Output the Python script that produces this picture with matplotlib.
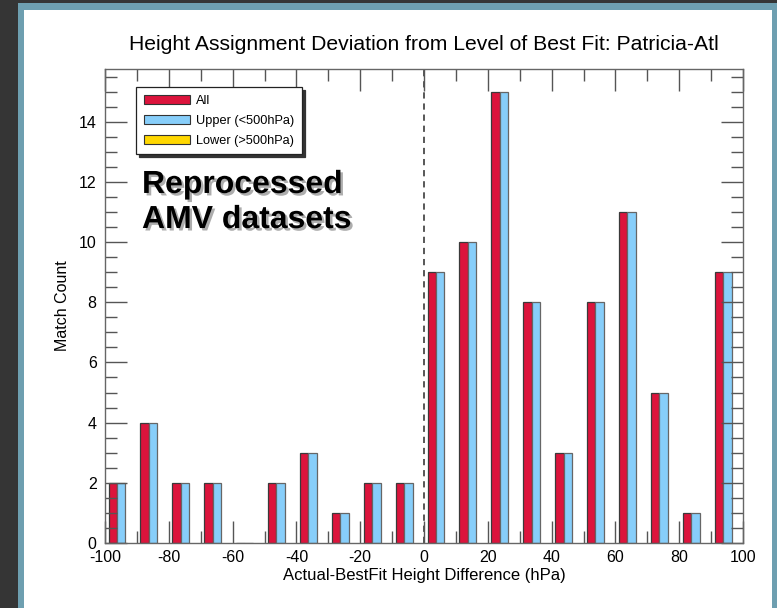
import matplotlib
matplotlib.use("Agg")
import matplotlib.pyplot as plt
import matplotlib.patheffects as pe
from matplotlib.patches import Rectangle
import numpy as np

plt.rcParams['font.family'] = ['Liberation Sans', 'DejaVu Sans']
plt.rcParams['lines.scale_dashes'] = False
plt.rcParams['axes.unicode_minus'] = False

# histogram bins (left edge, hPa) and counts
bin_left = [-100, -90, -80, -70, -60, -50, -40, -30, -20, -10,
            0, 10, 20, 30, 40, 50, 60, 70, 80, 90]
count_all = [2, 4, 2, 2, 0, 2, 3, 1, 2, 2,
             9, 10, 15, 8, 3, 8, 11, 5, 1, 9]
count_upper = [2, 4, 2, 2, 0, 2, 3, 1, 2, 2,
               9, 10, 15, 8, 3, 8, 11, 5, 1, 9]
count_lower = [0] * 20
series_names = ["All", "Upper (<500hPa)", "Lower (>500hPa)"]

fig = plt.figure(figsize=(7.77, 6.08), dpi=100, facecolor='#353535')

# slide panel
W, H = 777.0, 608.0
fig.add_artist(Rectangle((18 / W, 0), 1.0, (H - 3) / H, transform=fig.transFigure,
                         facecolor='#6e9fb0', edgecolor='none', zorder=-10))
fig.add_artist(Rectangle((24 / W, 0), (772 - 24) / W, (H - 10) / H, transform=fig.transFigure,
                         facecolor='white', edgecolor='none', zorder=-9))

ax = fig.add_axes([105 / W, (H - 543) / H, (743 - 105) / W, (543 - 69) / H])
ax.set_facecolor('none')

x = np.array(bin_left, dtype=float)
bw = 2.65
b1 = ax.bar(x + 1.1, count_all, width=bw, align='edge', color='#dc143c',
            edgecolor='#3a3a3a', linewidth=0.9, zorder=1)
b2 = ax.bar(x + 1.1 + bw, count_upper, width=bw, align='edge', color='#87cefa',
            edgecolor='#666666', linewidth=0.9, zorder=1)
b3 = ax.bar(x + 1.1 + 2 * bw, count_lower, width=bw, align='edge', color='#ffd700',
            edgecolor='#666666', linewidth=0.0, zorder=1)

ax.axvline(0, color='#4a4a4a', lw=1.3, dashes=(4.5, 3.5), zorder=1.5)

ax.set_xlim(-100, 100)
ax.set_ylim(0, 15.75)
ax.set_xticks(np.arange(-100, 101, 20))
ax.set_xticks(np.arange(-100, 101, 10), minor=True)
ax.set_yticks(np.arange(0, 15, 2))
ax.set_yticks(np.arange(0, 15.75, 0.5), minor=True)

ax.tick_params(which='both', direction='in', top=True, right=True,
               color='#555555', width=1.0, labelsize=11.5)
ax.tick_params(which='major', length=15.5, pad=5)
ax.tick_params(which='minor', length=8.5)
ax.tick_params(axis='y', pad=6)
for s in ax.spines.values():
    s.set_color('#666666')
    s.set_linewidth(1.0)

ax.set_title("Height Assignment Deviation from Level of Best Fit: Patricia-Atl",
             fontsize=15.2, pad=13.5)
ax.set_xlabel("Actual-BestFit Height Difference (hPa)", fontsize=12, labelpad=2)
ax.set_ylabel("Match Count", fontsize=11.5, labelpad=6)

leg = ax.legend([b1, b2, b3], series_names, loc='upper left',
                bbox_to_anchor=(0.0486, 0.962), borderaxespad=0,
                fontsize=9.2, handlelength=3.6, handleheight=0.7,
                labelspacing=0.62, handletextpad=0.5, borderpad=0.6,
                fancybox=False, shadow={'color': '#333333', 'alpha': 1.0},
                framealpha=1, edgecolor='#222222')
leg.get_frame().set_linewidth(0.9)
for p in leg.get_patches():
    p.set_edgecolor('#333333')
    p.set_linewidth(0.8)

ax.text(0.058, 0.787, "Reprocessed\nAMV datasets", transform=ax.transAxes,
        fontsize=23, fontweight='bold', va='top', ha='left', linespacing=1.22,
        path_effects=[pe.SimplePatchShadow(offset=(1.8, -1.8), shadow_rgbFace='#777777', alpha=0.6),
                      pe.Normal()])

fig.savefig("out.png", dpi=100, facecolor=fig.get_facecolor())
